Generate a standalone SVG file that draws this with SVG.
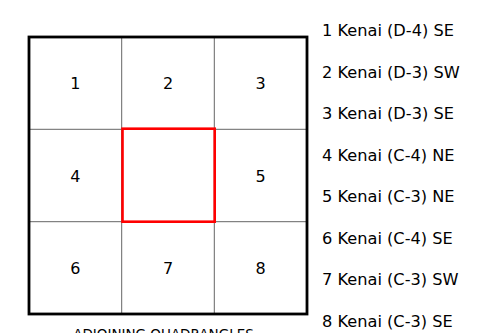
<svg xmlns="http://www.w3.org/2000/svg" width="481" height="333" viewBox="0 0 481 333">
<style>
text{font-family:"DejaVu Sans","Liberation Sans",sans-serif;fill:#000}
.d{font-size:16px;text-anchor:middle}
.l{font-size:16.2px}
.g{stroke:#666;stroke-width:1;fill:none}
</style>
<rect width="481" height="333" fill="#fff"/>
<g id="grid">
<line class="g" x1="121.7" y1="37" x2="121.7" y2="314"/>
<line class="g" x1="214.3" y1="37" x2="214.3" y2="314"/>
<line class="g" x1="29" y1="129.3" x2="307" y2="129.3"/>
<line class="g" x1="29" y1="221.7" x2="307" y2="221.7"/>
<rect x="29" y="37" width="278" height="277" fill="none" stroke="#000" stroke-width="2.8"/>
</g>
<g id="center"><rect x="122.5" y="128.7" width="92.2" height="93" fill="none" stroke="#f00" stroke-width="2.6"/></g>
<g id="n1"><text class="d" x="75.3" y="89">1</text></g>
<g id="n2"><text class="d" x="168" y="89">2</text></g>
<g id="n3"><text class="d" x="260.7" y="89">3</text></g>
<g id="n4"><text class="d" x="75.3" y="181.5">4</text></g>
<g id="n5"><text class="d" x="260.7" y="181.5">5</text></g>
<g id="n6"><text class="d" x="75.3" y="274">6</text></g>
<g id="n7"><text class="d" x="168" y="274">7</text></g>
<g id="n8"><text class="d" x="260.7" y="274">8</text></g>
<g id="legend">
<text class="l" x="322" y="36">1 Kenai (D-4) SE</text>
<text class="l" x="322" y="77.5">2 Kenai (D-3) SW</text>
<text class="l" x="322" y="119">3 Kenai (D-3) SE</text>
<text class="l" x="322" y="160.5">4 Kenai (C-4) NE</text>
<text class="l" x="322" y="202">5 Kenai (C-3) NE</text>
<text class="l" x="322" y="243.5">6 Kenai (C-4) SE</text>
<text class="l" x="322" y="285">7 Kenai (C-3) SW</text>
<text class="l" x="322" y="326.5">8 Kenai (C-3) SE</text>
</g>
<g id="caption"><text x="163.5" y="338.5" font-size="13.5" text-anchor="middle">ADJOINING QUADRANGLES</text></g>
</svg>
